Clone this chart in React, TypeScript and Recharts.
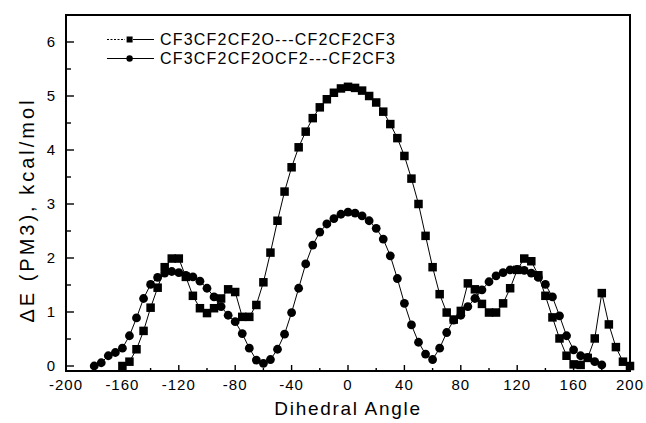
import { LineChart, Line, XAxis, YAxis, ReferenceArea, Legend } from "recharts";

// CF3CF2CF2O---CF2CF2CF3 (squares)
const anglesO = [
  -160, -155, -150, -145, -140, -135, -130, -125, -120, -115, -110, -105, -100,
  -95, -90, -85, -80, -75, -70, -65, -60, -55, -50, -45, -40, -35, -30, -25,
  -20, -15, -10, -5, 0, 5, 10, 15, 20, 25, 30, 35, 40, 45, 50, 55, 60, 65, 70,
  75, 80, 85, 90, 95, 100, 105, 110, 115, 120, 125, 130, 135, 140, 145, 150,
  155, 160, 165, 170, 175, 180, 185, 190, 195, 200,
];
const energyO = [
  0, 0.08, 0.31, 0.65, 1.08, 1.45, 1.83, 1.99, 1.99, 1.65, 1.3, 1.07, 0.98,
  1.07, 1.25, 1.42, 1.37, 0.91, 0.91, 1.13, 1.55, 2.1, 2.69, 3.23, 3.68, 4.05,
  4.34, 4.59, 4.79, 4.94, 5.06, 5.14, 5.17, 5.15, 5.1, 5.0, 4.88, 4.71, 4.48,
  4.22, 3.89, 3.47, 3.0, 2.41, 1.83, 1.33, 0.99, 0.86, 1.02, 1.53, 1.42, 1.15,
  0.99, 0.99, 1.16, 1.44, 1.78, 1.99, 1.94, 1.68, 1.3, 0.9, 0.51, 0.19, 0.03,
  0.02, 0.15, 0.51, 1.35, 0.77, 0.35, 0.08, 0,
];

// CF3CF2CF2OCF2---CF2CF3 (circles)
const anglesOCF2 = [
  -180, -175, -170, -165, -160, -155, -150, -145, -140, -135, -130, -125, -120,
  -115, -110, -105, -100, -95, -90, -85, -80, -75, -70, -65, -60, -55, -50, -45,
  -40, -35, -30, -25, -20, -15, -10, -5, 0, 5, 10, 15, 20, 25, 30, 35, 40, 45,
  50, 55, 60, 65, 70, 75, 80, 85, 90, 95, 100, 105, 110, 115, 120, 125, 130,
  135, 140, 145, 150, 155, 160, 165, 170, 175, 180,
];
const energyOCF2 = [
  0, 0.06, 0.19, 0.25, 0.33, 0.56, 0.89, 1.25, 1.51, 1.64, 1.72, 1.75, 1.73,
  1.68, 1.65, 1.57, 1.44, 1.28, 1.1, 0.94, 0.82, 0.6, 0.33, 0.11, 0.05, 0.12,
  0.31, 0.59, 0.99, 1.44, 1.89, 2.24, 2.48, 2.63, 2.73, 2.81, 2.85, 2.83, 2.78,
  2.69, 2.55, 2.35, 2.04, 1.62, 1.16, 0.76, 0.44, 0.22, 0.12, 0.33, 0.62, 0.85,
  0.94, 1.1, 1.25, 1.41, 1.56, 1.67, 1.73, 1.78, 1.79, 1.77, 1.72, 1.64, 1.51,
  1.28, 0.93, 0.56, 0.3, 0.19, 0.16, 0.08, 0.02,
];

const xTicks = [
  -200, -180, -160, -140, -120, -100, -80, -60, -40, -20, 0, 20, 40, 60, 80,
  100, 120, 140, 160, 180, 200,
];
const yTicks = [0, 0.5, 1, 1.5, 2, 2.5, 3, 3.5, 4, 4.5, 5, 5.5, 6];

const seriesNames = ["CF3CF2CF2O---CF2CF2CF3", "CF3CF2CF2OCF2---CF2CF3"];

const dataO = anglesO.map((a, i) => ({ angle: a, e: energyO[i] }));
const dataOCF2 = anglesOCF2.map((a, i) => ({ angle: a, e: energyOCF2[i] }));

const FONT = "'Liberation Sans', Arial, Helvetica, sans-serif";
const Y_MIN = -0.0926;
const Y_MAX = 6.5;

const SquareDot = (props: any) => {
  const { cx, cy } = props;
  if (cx == null || cy == null) return null;
  return <rect x={cx - 4.25} y={cy - 4.25} width={8.5} height={8.5} fill="#000" />;
};

const CircleDot = (props: any) => {
  const { cx, cy } = props;
  if (cx == null || cy == null) return null;
  return <circle cx={cx} cy={cy} r={4.4} fill="#000" />;
};

const XTick = (props: any) => {
  const { x, y, payload } = props;
  const v = payload.value;
  const major = v % 40 === 0;
  return (
    <g>
      <line x1={x} x2={x} y1={y} y2={y - (major ? 6 : 3)} stroke="#000" strokeWidth={1.4} />
      {major && (
        <text x={x} y={y + 19} textAnchor="middle" fontFamily={FONT} fontSize={15} letterSpacing={1} fill="#000">
          {v}
        </text>
      )}
    </g>
  );
};

const YTick = (props: any) => {
  const { x, y, payload } = props;
  const v = payload.value;
  const major = Number.isInteger(v);
  return (
    <g>
      <line x1={x} x2={x + (major ? 8 : 5)} y1={y} y2={y} stroke="#000" strokeWidth={1.4} />
      {major && (
        <text x={x - 11} y={y + 5} textAnchor="end" fontFamily={FONT} fontSize={15} fill="#000">
          {v}
        </text>
      )}
    </g>
  );
};

const LegendBox = () => (
  <div style={{ fontFamily: FONT, fontSize: 16, letterSpacing: 1.2, color: "#000" }}>
    <div style={{ display: "flex", alignItems: "center", height: 19 }}>
      <svg width={53} height={19}>
        <line x1={0} x2={18} y1={9.5} y2={9.5} stroke="#000" strokeWidth={1} strokeDasharray="2 1.5" />
        <rect x={19.6} y={6.5} width={6} height={6} fill="#000" />
        <line x1={26} x2={47} y1={9.5} y2={9.5} stroke="#000" strokeWidth={1} />
      </svg>
      <span>{seriesNames[0]}</span>
    </div>
    <div style={{ display: "flex", alignItems: "center", height: 19 }}>
      <svg width={53} height={19}>
        <line x1={0} x2={47} y1={9.5} y2={9.5} stroke="#000" strokeWidth={1} />
        <circle cx={22.6} cy={9.5} r={3.2} fill="#000" />
      </svg>
      <span>{seriesNames[1]}</span>
    </div>
  </div>
);

export default function App() {
  return (
    <div style={{ position: "absolute", left: 0, top: 0, background: "#fff" }}>
      <LineChart width={646} height={423} margin={{ top: 15, right: 16, bottom: 0, left: 0 }}>
        <XAxis
          dataKey="angle"
          type="number"
          domain={[-200, 200]}
          ticks={xTicks}
          interval={0}
          height={52}
          axisLine={false}
          tickLine={false}
          tickSize={0}
          tickMargin={0}
          tick={<XTick />}
          allowDuplicatedCategory={false}
          label={{
            content: () => (
              <text x={348} y={415} textAnchor="middle" fontFamily={FONT} fontSize={19} letterSpacing={1.7} fill="#000">
                Dihedral Angle
              </text>
            ),
          }}
        />
        <YAxis
          type="number"
          domain={[Y_MIN, Y_MAX]}
          ticks={yTicks}
          interval={0}
          width={66}
          axisLine={false}
          tickLine={false}
          tickSize={0}
          tickMargin={0}
          tick={<YTick />}
          allowDataOverflow
          label={{
            content: () => (
              <text
                x={34}
                y={210}
                transform="rotate(-90, 34, 210)"
                textAnchor="middle"
                fontFamily={FONT}
                fontSize={20}
                letterSpacing={3}
                fill="#000"
              >
                ΔE (PM3), kcal/mol
              </text>
            ),
          }}
        />
        <ReferenceArea
          x1={-200}
          x2={200}
          y1={Y_MIN}
          y2={Y_MAX}
          fill="none"
          fillOpacity={0}
          stroke="#000"
          strokeWidth={2}
          ifOverflow="visible"
        />
        <Line
          data={dataO}
          dataKey="e"
          name={seriesNames[0]}
          type="linear"
          stroke="#000"
          strokeWidth={1}
          dot={<SquareDot />}
          activeDot={false}
          isAnimationActive={false}
        />
        <Line
          data={dataOCF2}
          dataKey="e"
          name={seriesNames[1]}
          type="linear"
          stroke="#000"
          strokeWidth={1}
          dot={<CircleDot />}
          activeDot={false}
          isAnimationActive={false}
        />
        <Legend
          layout="vertical"
          verticalAlign="middle"
          align="center"
          content={<LegendBox />}
          wrapperStyle={{ left: 107, top: 30, width: "auto", right: "auto", bottom: "auto" }}
        />
      </LineChart>
    </div>
  );
}
